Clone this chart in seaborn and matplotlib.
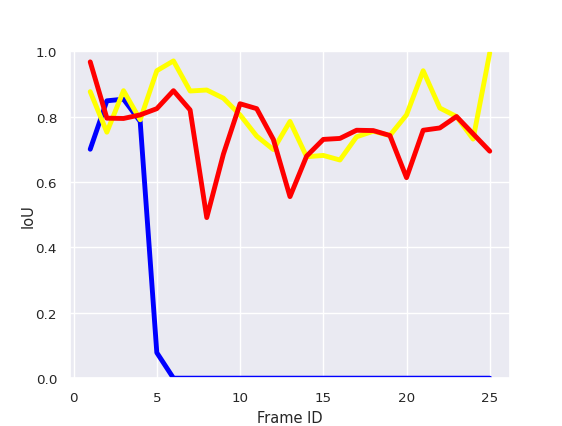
import matplotlib
matplotlib.use("Agg")
import matplotlib.pyplot as plt
import seaborn as sns
import pandas as pd

frames = list(range(1, 26))
iou_blue = [0.70, 0.848, 0.853, 0.785, 0.078, 0.0, 0.0, 0.0, 0.0, 0.0,
            0.0, 0.0, 0.0, 0.0, 0.0, 0.0, 0.0, 0.0, 0.0, 0.0,
            0.0, 0.0, 0.0, 0.0, 0.0]
iou_yellow = [0.876, 0.752, 0.879, 0.79, 0.94, 0.97, 0.878, 0.881, 0.856, 0.805,
              0.74, 0.699, 0.785, 0.677, 0.681, 0.667, 0.738, 0.755, 0.742, 0.805,
              0.94, 0.826, 0.80, 0.731, 0.995]
iou_red = [0.967, 0.795, 0.794, 0.805, 0.824, 0.879, 0.82, 0.491, 0.685, 0.839,
           0.824, 0.73, 0.555, 0.679, 0.73, 0.733, 0.758, 0.757, 0.742, 0.613,
           0.758, 0.765, 0.80, 0.747, 0.694]

sns.set_theme(style="darkgrid")
plt.rcParams.update({"axes.labelsize": 10.5, "xtick.labelsize": 9.7,
                     "ytick.labelsize": 9.7})

fig, ax = plt.subplots(figsize=(5.62, 4.27), dpi=100)
fig.subplots_adjust(left=0.125, right=0.907, top=0.878, bottom=0.112)
for vals, col in [(iou_blue, "blue"), (iou_yellow, "yellow"), (iou_red, "red")]:
    df = pd.DataFrame({"frame": frames, "iou": vals})
    sns.lineplot(data=df, x="frame", y="iou", color=col, linewidth=3.5, ax=ax)

ax.set_ylim(0, 1.0)
ax.set_xlabel("Frame ID")
ax.set_ylabel("IoU", labelpad=0)
fig.savefig("out.png", dpi=100)
